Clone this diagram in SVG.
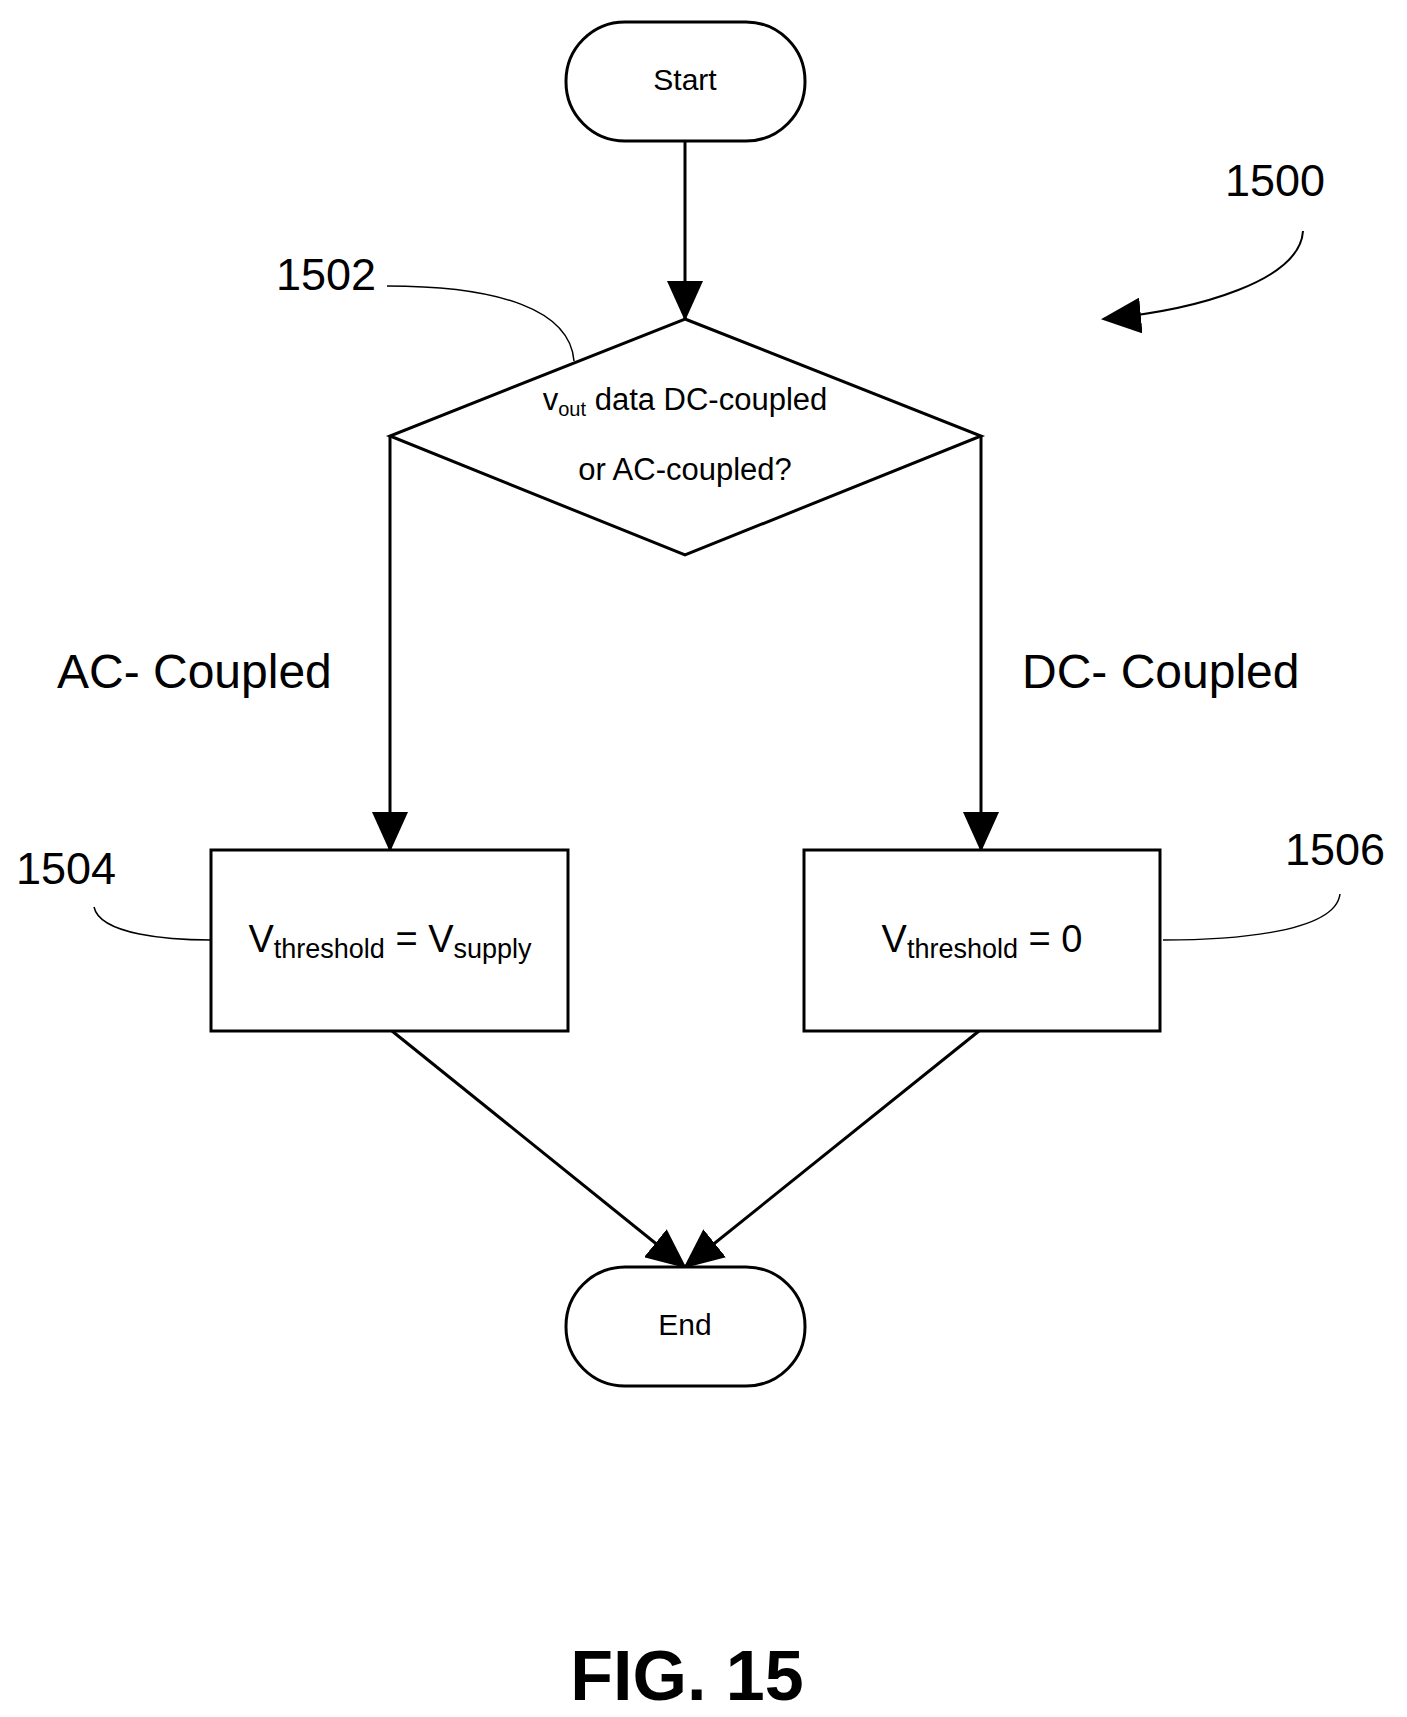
<svg xmlns="http://www.w3.org/2000/svg" width="1407" height="1717" viewBox="0 0 1407 1717">
<style>
.s{fill:#fff;stroke:#000;stroke-width:3}
.l{fill:none;stroke:#000;stroke-width:3}
.t{font-family:"Liberation Sans",Arial,sans-serif;fill:#000}
.c{fill:none;stroke:#000;stroke-width:1.5}
</style>
<defs>
<marker id="b" markerWidth="40" markerHeight="36" refX="38" refY="18" orient="auto" markerUnits="userSpaceOnUse" viewBox="0 0 40 36"><path d="M0,0L40,18L0,36Z" fill="#000"/></marker>
</defs>
<rect width="1407" height="1717" fill="#fff"/>
<g id="connectors">
<line class="l" x1="685" y1="141" x2="685" y2="319" marker-end="url(#b)"/>
<polyline class="l" points="390,436 390,850" marker-end="url(#b)"/>
<polyline class="l" points="981,436 981,850" marker-end="url(#b)"/>
<line class="l" x1="392" y1="1031" x2="685" y2="1267" marker-end="url(#b)"/>
<line class="l" x1="979" y1="1031" x2="685" y2="1267" marker-end="url(#b)"/>
<text class="t" x="57" y="688" font-size="48">AC- Coupled</text>
<text class="t" x="1022" y="688" font-size="48">DC- Coupled</text>
</g>
<g id="start"><rect class="s" x="566" y="22" width="239" height="119" rx="59"/><text class="t" x="685" y="90" font-size="30" text-anchor="middle">Start</text></g>
<g id="n1502"><polygon class="s" points="685,319 981,436 685,555 390,436"/>
<text class="t" x="685" y="410" font-size="31" text-anchor="middle">v<tspan font-size="20" dy="6">out</tspan><tspan dy="-6"> data DC-coupled</tspan></text>
<text class="t" x="685" y="480" font-size="31" text-anchor="middle">or AC-coupled?</text>
<text class="t" x="276" y="290" font-size="45">1502</text>
<path class="c" d="M387,286 C500,286 570,310 574,361"/></g>
<g id="n1504"><rect class="s" x="211" y="850" width="357" height="181"/>
<text class="t" x="390" y="952" font-size="38" text-anchor="middle">V<tspan font-size="27" dy="6">threshold</tspan><tspan dy="-6"> = V</tspan><tspan font-size="27" dy="6">supply</tspan></text>
<text class="t" x="16" y="884" font-size="45">1504</text>
<path class="c" d="M94,907 C100,935 170,940 211,940"/></g>
<g id="n1506"><rect class="s" x="804" y="850" width="356" height="181"/>
<text class="t" x="982" y="952" font-size="38" text-anchor="middle">V<tspan font-size="27" dy="6">threshold</tspan><tspan dy="-6"> = 0</tspan></text>
<text class="t" x="1285" y="865" font-size="45">1506</text>
<path class="c" d="M1340,894 C1335,935 1220,940 1163,940"/></g>
<g id="end"><rect class="s" x="566" y="1267" width="239" height="119" rx="59"/><text class="t" x="685" y="1335" font-size="30" text-anchor="middle">End</text></g>
<g id="n1500"><text class="t" x="1225" y="196" font-size="45">1500</text>
<path class="c" d="M1303,231 C1300,280 1200,310 1103,319" marker-end="url(#b)" style="stroke-width:2"/></g>
<text class="t" x="687" y="1700" font-size="70" font-weight="bold" text-anchor="middle">FIG. 15</text>
</svg>
